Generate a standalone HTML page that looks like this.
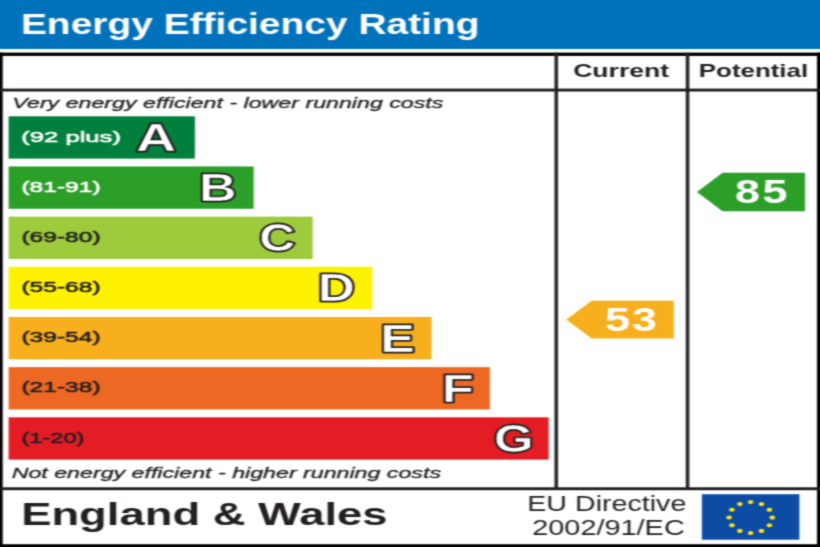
<!DOCTYPE html>
<html><head><meta charset="utf-8">
<style>
html,body{margin:0;padding:0;background:#fff;width:820px;height:547px;overflow:hidden;position:relative}
svg{display:block}
text{font-family:"Liberation Sans",sans-serif}
</style></head>
<body>
<div id="c" style="position:relative;width:820px;height:547px;overflow:hidden">
<svg width="844" height="571" viewBox="-12 -12 844 571" style="position:absolute;left:-12px;top:-12px">
<defs><filter id="b" x="-12" y="-12" width="844" height="571" filterUnits="userSpaceOnUse" color-interpolation-filters="sRGB"><feConvolveMatrix order="5 3" kernelMatrix="0.00627 0.03992 0.07401 0.03992 0.00627 0.02513 0.16010 0.29680 0.16010 0.02513 0.00627 0.03992 0.07401 0.03992 0.00627" divisor="1" edgeMode="duplicate" preserveAlpha="true"/></filter></defs>
<g filter="url(#b)">
<rect x="-12" y="-12" width="844" height="571" fill="#fff"/>
<rect x="-12" y="-12" width="844" height="61" fill="#0072bc"/>
<rect x="-12" y="52.6" width="844" height="3.3" fill="#000"/>
<rect x="-12" y="544.2" width="844" height="15" fill="#000"/>
<rect x="-12" y="52.6" width="14.7" height="506" fill="#000"/>
<rect x="817" y="52.6" width="15" height="506" fill="#000"/>
<rect x="0" y="88.6" width="820" height="2.9" fill="#231f20"/>
<rect x="0" y="487.3" width="820" height="2.9" fill="#231f20"/>
<rect x="554.5" y="52.6" width="3.5" height="436" fill="#231f20"/>
<rect x="685.8" y="52.6" width="3.5" height="436" fill="#231f20"/>
<rect x="8.6" y="116.30" width="186.30" height="42.3" fill="#007f3d"/>
<rect x="8.6" y="166.47" width="245.10" height="42.3" fill="#2c9f29"/>
<rect x="8.6" y="216.64" width="304.10" height="42.3" fill="#9dcb3c"/>
<rect x="8.6" y="266.81" width="363.70" height="42.3" fill="#fff200"/>
<rect x="8.6" y="316.98" width="422.90" height="42.3" fill="#f7af1d"/>
<rect x="8.6" y="367.15" width="481.30" height="42.3" fill="#ed6823"/>
<rect x="8.6" y="417.32" width="540.10" height="42.3" fill="#e31d23"/>
<polygon points="697,192 722.5,172.8 805,172.8 805,211.3 722.5,211.3" fill="#2c9f29"/>
<polygon points="566.3,319.5 591.7,300.8 673.8,300.8 673.8,338.4 591.7,338.4" fill="#f7af1d"/>
<rect x="701.9" y="494.2" width="97.5" height="45.5" fill="#0d4ca4"/>
<g fill="#fbe41a"><ellipse cx="750.70" cy="502.00" rx="2.7" ry="2.1"/><ellipse cx="761.50" cy="504.08" rx="2.7" ry="2.1"/><ellipse cx="769.41" cy="509.75" rx="2.7" ry="2.1"/><ellipse cx="772.30" cy="517.50" rx="2.7" ry="2.1"/><ellipse cx="769.41" cy="525.25" rx="2.7" ry="2.1"/><ellipse cx="761.50" cy="530.92" rx="2.7" ry="2.1"/><ellipse cx="750.70" cy="533.00" rx="2.7" ry="2.1"/><ellipse cx="739.90" cy="530.92" rx="2.7" ry="2.1"/><ellipse cx="731.99" cy="525.25" rx="2.7" ry="2.1"/><ellipse cx="729.10" cy="517.50" rx="2.7" ry="2.1"/><ellipse cx="731.99" cy="509.75" rx="2.7" ry="2.1"/><ellipse cx="739.90" cy="504.08" rx="2.7" ry="2.1"/></g>
<text x="20.92" y="33.60" textLength="458.61" lengthAdjust="spacingAndGlyphs" font-size="29" font-weight="bold" fill="#fff">Energy Efficiency Rating</text>
<text x="573.16" y="77.40" textLength="95.97" lengthAdjust="spacingAndGlyphs" font-size="18.5" font-weight="bold" fill="#231f20">Current</text>
<text x="698.80" y="77.40" textLength="109.37" lengthAdjust="spacingAndGlyphs" font-size="18.5" font-weight="bold" fill="#231f20">Potential</text>
<text x="12.39" y="107.80" textLength="431.01" lengthAdjust="spacingAndGlyphs" font-size="15.4" font-style="italic" fill="#231f20" stroke="#231f20" stroke-width="0.3" stroke-linejoin="round" paint-order="normal">Very energy efficient - lower running costs</text>
<text x="11.70" y="478.40" textLength="429.34" lengthAdjust="spacingAndGlyphs" font-size="15.4" font-style="italic" fill="#231f20" stroke="#231f20" stroke-width="0.3" stroke-linejoin="round" paint-order="normal">Not energy efficient - higher running costs</text>
<text x="21.35" y="141.50" textLength="99.57" lengthAdjust="spacingAndGlyphs" font-size="15.5" fill="#fff" stroke="#fff" stroke-width="0.55" stroke-linejoin="round" paint-order="normal">(92 plus)</text>
<text x="21.41" y="191.67" textLength="79.22" lengthAdjust="spacingAndGlyphs" font-size="15.5" fill="#fff" stroke="#fff" stroke-width="0.55" stroke-linejoin="round" paint-order="normal">(81-91)</text>
<text x="21.41" y="241.84" textLength="79.22" lengthAdjust="spacingAndGlyphs" font-size="15.5" fill="#231f20" stroke="#231f20" stroke-width="0.55" stroke-linejoin="round" paint-order="normal">(69-80)</text>
<text x="21.41" y="292.01" textLength="79.22" lengthAdjust="spacingAndGlyphs" font-size="15.5" fill="#231f20" stroke="#231f20" stroke-width="0.55" stroke-linejoin="round" paint-order="normal">(55-68)</text>
<text x="21.41" y="342.18" textLength="79.22" lengthAdjust="spacingAndGlyphs" font-size="15.5" fill="#231f20" stroke="#231f20" stroke-width="0.55" stroke-linejoin="round" paint-order="normal">(39-54)</text>
<text x="21.41" y="392.35" textLength="79.22" lengthAdjust="spacingAndGlyphs" font-size="15.5" fill="#231f20" stroke="#231f20" stroke-width="0.55" stroke-linejoin="round" paint-order="normal">(21-38)</text>
<text x="21.48" y="442.52" textLength="62.97" lengthAdjust="spacingAndGlyphs" font-size="15.5" fill="#231f20" stroke="#231f20" stroke-width="0.55" stroke-linejoin="round" paint-order="normal">(1-20)</text>
<text x="136.00" y="150.95" textLength="40.14" lengthAdjust="spacingAndGlyphs" font-size="39.3" font-weight="bold" fill="#231f20" stroke="#231f20" stroke-width="2.9" stroke-linejoin="round">A</text><text x="136.00" y="150.95" textLength="40.14" lengthAdjust="spacingAndGlyphs" font-size="39.3" font-weight="bold" fill="#fff" stroke="#231f20" stroke-width="0.6" stroke-linejoin="round">A</text>
<text x="199.08" y="201.12" textLength="37.54" lengthAdjust="spacingAndGlyphs" font-size="39.3" font-weight="bold" fill="#231f20" stroke="#231f20" stroke-width="2.9" stroke-linejoin="round">B</text><text x="199.08" y="201.12" textLength="37.54" lengthAdjust="spacingAndGlyphs" font-size="39.3" font-weight="bold" fill="#fff" stroke="#231f20" stroke-width="0.6" stroke-linejoin="round">B</text>
<text x="259.20" y="251.29" textLength="36.12" lengthAdjust="spacingAndGlyphs" font-size="39.3" font-weight="bold" fill="#231f20" stroke="#231f20" stroke-width="2.9" stroke-linejoin="round">C</text><text x="259.20" y="251.29" textLength="36.12" lengthAdjust="spacingAndGlyphs" font-size="39.3" font-weight="bold" fill="#fff" stroke="#231f20" stroke-width="0.6" stroke-linejoin="round">C</text>
<text x="317.89" y="301.46" textLength="37.22" lengthAdjust="spacingAndGlyphs" font-size="39.3" font-weight="bold" fill="#231f20" stroke="#231f20" stroke-width="2.9" stroke-linejoin="round">D</text><text x="317.89" y="301.46" textLength="37.22" lengthAdjust="spacingAndGlyphs" font-size="39.3" font-weight="bold" fill="#fff" stroke="#231f20" stroke-width="0.6" stroke-linejoin="round">D</text>
<text x="380.18" y="351.63" textLength="34.71" lengthAdjust="spacingAndGlyphs" font-size="39.3" font-weight="bold" fill="#231f20" stroke="#231f20" stroke-width="2.9" stroke-linejoin="round">E</text><text x="380.18" y="351.63" textLength="34.71" lengthAdjust="spacingAndGlyphs" font-size="39.3" font-weight="bold" fill="#fff" stroke="#231f20" stroke-width="0.6" stroke-linejoin="round">E</text>
<text x="441.77" y="401.80" textLength="32.06" lengthAdjust="spacingAndGlyphs" font-size="39.3" font-weight="bold" fill="#231f20" stroke="#231f20" stroke-width="2.9" stroke-linejoin="round">F</text><text x="441.77" y="401.80" textLength="32.06" lengthAdjust="spacingAndGlyphs" font-size="39.3" font-weight="bold" fill="#fff" stroke="#231f20" stroke-width="0.6" stroke-linejoin="round">F</text>
<text x="494.00" y="451.97" textLength="39.55" lengthAdjust="spacingAndGlyphs" font-size="39.3" font-weight="bold" fill="#231f20" stroke="#231f20" stroke-width="2.9" stroke-linejoin="round">G</text><text x="494.00" y="451.97" textLength="39.55" lengthAdjust="spacingAndGlyphs" font-size="39.3" font-weight="bold" fill="#fff" stroke="#231f20" stroke-width="0.6" stroke-linejoin="round">G</text>
<text transform="translate(734.94,203.00) scale(1.36,1)" x="0" y="0" letter-spacing="1.912" font-size="33" font-weight="bold" fill="#fff">85</text>
<text transform="translate(604.94,330.80) scale(1.36,1)" x="0" y="0" letter-spacing="1.588" font-size="33" font-weight="bold" fill="#fff">53</text>
<text x="21.15" y="525.00" textLength="366.40" lengthAdjust="spacingAndGlyphs" font-size="31.8" font-weight="bold" fill="#231f20">England &amp; Wales</text>
<text x="527.26" y="510.90" textLength="159.12" lengthAdjust="spacingAndGlyphs" font-size="21.7" fill="#231f20">EU Directive</text>
<text x="532.24" y="535.00" textLength="152.52" lengthAdjust="spacingAndGlyphs" font-size="21.2" fill="#231f20">2002/91/EC</text>
</g>
</svg>
</div>
</body></html>
